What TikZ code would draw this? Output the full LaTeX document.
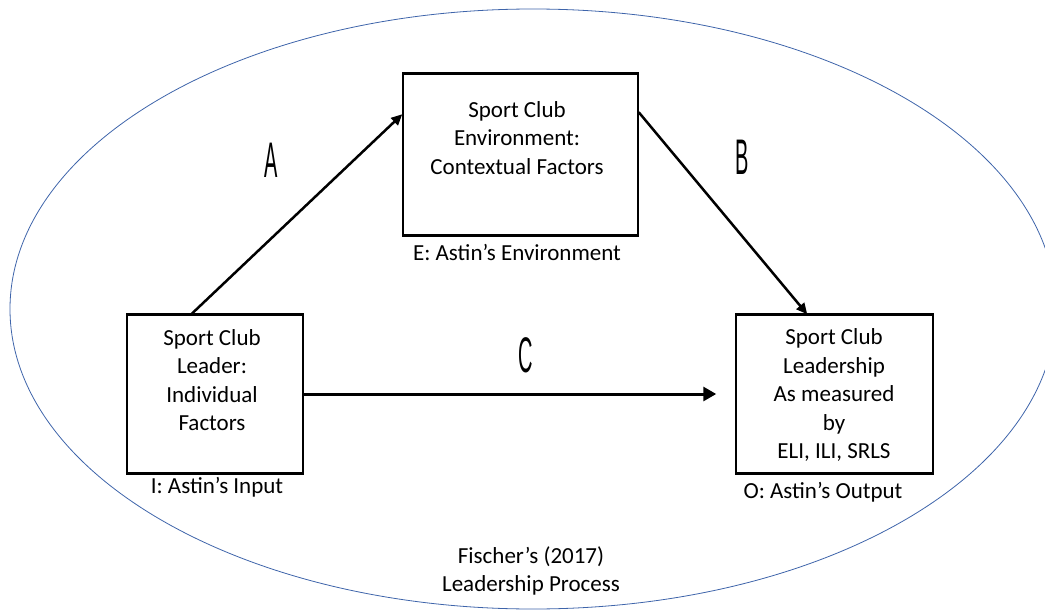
\documentclass[tikz,border=0pt]{standalone}
\usepackage{fontspec}
\setmainfont{Carlito}
\newfontfamily\zimufont{Liberation Sans}
\usepackage{graphicx}
\usetikzlibrary{arrows.meta}
\definecolor{tuoyuan}{RGB}{62,100,170}
\tikzset{
    kuang/.style={draw, line width=1.5pt, inner sep=0pt},
    wenzi/.style={align=center, inner sep=0pt, font=\fontsize{23}{28.5}\selectfont},
    jiantou/.style={-{Triangle[length=11pt,width=10pt]}, line width=2.5pt},
    zimu/.style={inner sep=0pt, font=\zimufont\fontsize{50}{50}\selectfont},
}
\begin{document}
\begin{tikzpicture}[x=1pt, y=-1pt]
        \useasboundingbox (0,0) rectangle (1045,610);
        %画外面的椭圆
        \draw[tuoyuan, line width=0.8pt] (533,309) ellipse [x radius=523pt, y radius=300pt];
        %画三个方框
        \node[kuang, minimum width=235pt, minimum height=161pt] (E) at (520.5,154.5) {};
        \node[kuang, minimum width=176pt, minimum height=158pt] (I) at (215,394) {};
        \node[kuang, minimum width=197pt, minimum height=158pt] (O) at (834.5,394) {};
        \foreach \k in {E,I,O}
        {
            \draw[line width=3pt] (\k.north west) -- (\k.north east);
            \draw[line width=2.5pt] (\k.south west) -- (\k.south east);
        };
        %方框里的文字
        \node[wenzi] (Et) at (517,138) {Sport Club\\Environment:\\Contextual Factors};
        \node[wenzi] (It) at (212,380) {Sport Club\\Leader:\\Individual\\Factors};
        \node[wenzi] (Ot) at (834,395) {Sport Club\\Leadership\\As measured\\by\\ELI, ILI, SRLS};
        %方框下面的标注
        \node[wenzi] (El) at (517,252) {E: Astin’s Environment};
        \node[wenzi] (Il) at (217,487) {I: Astin’s Input};
        \node[wenzi] (Ol) at (823,492) {O: Astin’s Output};
        \node[wenzi] (Ft) at (531,571) {Fischer’s (2017)\\Leadership Process};
        %画箭头
        \draw[jiantou] ([xshift=65pt]I.north west) -- ([yshift=-41pt]E.north west);
        \draw[jiantou] ([yshift=-39pt]E.north east) -- ([xshift=72pt]O.north west);
        \draw[jiantou, -{Triangle[length=13pt,width=14pt]}, line width=3pt] (I.east) -- ([xshift=-19pt]O.west);
        %标A、B、C
        \node[zimu] (A) at (271,160) {\scalebox{0.4}[1]{A}};
        \node[zimu] (B) at (742,157) {\scalebox{0.4}[1]{B}};
        \node[zimu] (C) at (526,355) {\scalebox{0.4}[1]{C}};
\end{tikzpicture}
\end{document}
